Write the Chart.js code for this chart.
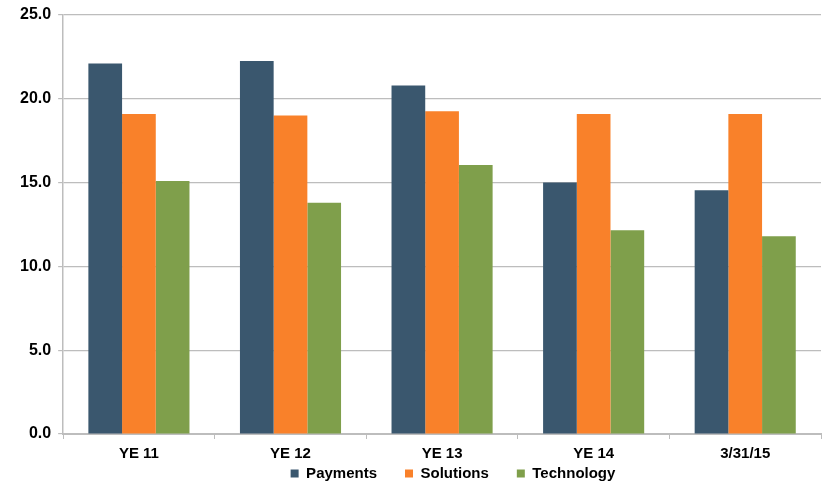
<!DOCTYPE html>
<html>
<head>
<meta charset="utf-8">
<script src="https://cdn.jsdelivr.net/npm/chart.js@4/dist/chart.umd.min.js"></script>
<style>
  html, body { margin: 0; padding: 0; background: #fff; }
  #wrap { width: 827px; height: 485px; position: relative; }
</style>
</head>
<body>
<div id="wrap"><canvas id="segChart"></canvas></div>
<script>
// Segment values by period
const periods    = ['YE 11', 'YE 12', 'YE 13', 'YE 14', '3/31/15'];
const payments   = [22.1, 22.25, 20.8, 15.0, 14.55];
const solutions  = [19.1, 19.0, 19.25, 19.1, 19.1];
const technology = [15.1, 13.8, 16.05, 12.15, 11.8];

const FONT = "'Liberation Sans', Arial, sans-serif";
const GRID = '#bdbdbd';
const LEGEND_GAP = 28;   // horizontal room between legend entries
const LEGEND_H = 16;
const LEGEND_DX = 36;

// Legend padding drives both the item spacing and the vertical room it takes;
// keep the wide spacing but give it a short box, nudged right under the plot.
const compactLegend = {
  id: 'compactLegend',
  afterInit(chart) {
    const lg = chart.legend;
    if (!lg) return;
    const fit = lg.fit, draw = lg.draw;
    lg.fit = function () { fit.call(this); this.height = LEGEND_H; };
    lg.draw = function () {
      const t = this.top, l = this.left, r = this.right;
      this.top = t - LEGEND_GAP - 3;
      this.left = l + LEGEND_DX;
      this.right = r + LEGEND_DX;
      draw.call(this);
      this.top = t; this.left = l; this.right = r;
    };
  }
};

new Chart(document.getElementById('segChart'), {
  type: 'bar',
  data: {
    labels: periods,
    datasets: [
      { label: 'Payments',   data: payments,   backgroundColor: '#3a576e' },
      { label: 'Solutions',  data: solutions,  backgroundColor: '#f9812a' },
      { label: 'Technology', data: technology, backgroundColor: '#7f9f4b' }
    ]
  },
  plugins: [compactLegend],
  options: {
    responsive: true,
    maintainAspectRatio: false,
    animation: false,
    layout: { padding: { top: 3, right: 6, left: 13, bottom: 0 } },
    datasets: { bar: { categoryPercentage: 0.667, barPercentage: 1.0 } },
    plugins: {
      tooltip: { enabled: false },
      legend: {
        position: 'bottom',
        labels: {
          color: '#000',
          font: { family: FONT, size: 15, weight: 'bold' },
          boxWidth: 8, boxHeight: 8, padding: LEGEND_GAP
        }
      }
    },
    scales: {
      x: {
        grid: { display: true, drawOnChartArea: false, color: GRID, tickLength: 5 },
        border: { color: GRID, width: 2 },
        ticks: { color: '#000', font: { family: FONT, size: 15, weight: 'bold' }, padding: 6 }
      },
      y: {
        min: 0, max: 25,
        grid: { color: GRID, tickLength: 5, lineWidth: 1.2 },
        border: { color: GRID, width: 1.5 },
        ticks: {
          stepSize: 5,
          color: '#000',
          font: { family: FONT, size: 16, weight: 'bold', lineHeight: 1 },
          padding: 7,
          callback: v => v.toFixed(1)
        }
      }
    }
  }
});
</script>
</body>
</html>
